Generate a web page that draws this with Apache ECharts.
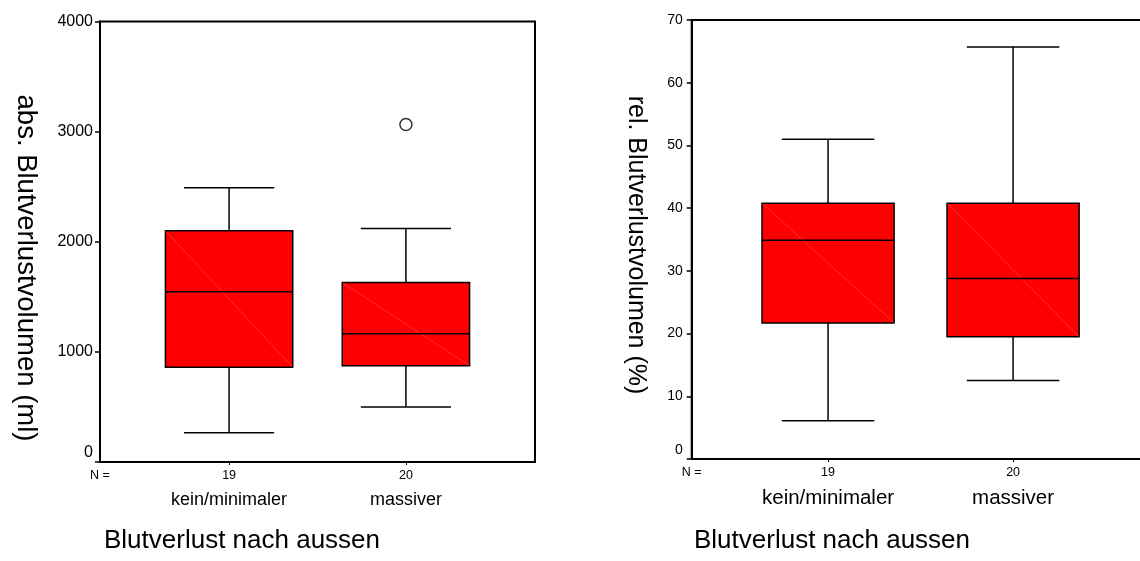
<!DOCTYPE html>
<html>
<head>
<meta charset="utf-8">
<script src="https://cdn.jsdelivr.net/npm/echarts@6/dist/echarts.min.js"></script>
<style>
  html, body { margin: 0; padding: 0; background: #fff; }
  #chart { width: 1140px; height: 561px; }
</style>
</head>
<body>
<div id="chart"></div>
<script>
// Groups (external blood loss) and their case counts
const groups = ['kein/minimaler', 'massiver'];
const groupN = [19, 20];

// Box statistics per group: [lower whisker, Q1, median, Q3, upper whisker]
const absStats = [
  [265, 860, 1545, 2100, 2490],
  [500, 875, 1165, 1630, 2120]
];
// Outliers: [group position, value]
const absOutliers = [[2, 3065]];

const relStats = [
  [6.1, 21.7, 34.9, 40.8, 51.0],
  [12.5, 19.5, 28.8, 40.8, 65.7]
];
const relOutliers = [];

// Value axis settings
const absAxis = { min: 0, max: 4000, interval: 1000 };
const relAxis = { min: 0, max: 70, interval: 10 };

// Horizontal extents of the two plot areas (group positions are 1 and 2)
const absXRange = [0.27, 2.73];
const relXRange = [0.263, 2.74];

const FONT = "'Liberation Sans', Arial, sans-serif";

function boxRenderer(boxW, capW) {
  return function (params, api) {
    const x = api.value(0);
    const lo = api.coord([x, api.value(1)]);
    const q1 = api.coord([x, api.value(2)]);
    const md = api.coord([x, api.value(3)]);
    const q3 = api.coord([x, api.value(4)]);
    const hi = api.coord([x, api.value(5)]);
    const hb = api.size([boxW, 0])[0] / 2;
    const hc = api.size([capW, 0])[0] / 2;
    const cx = lo[0];
    const line = { stroke: '#000', lineWidth: 1.5 };
    return {
      type: 'group',
      children: [
        { type: 'line', shape: { x1: cx, y1: lo[1], x2: cx, y2: q1[1] }, style: line },
        { type: 'line', shape: { x1: cx, y1: q3[1], x2: cx, y2: hi[1] }, style: line },
        { type: 'line', shape: { x1: cx - hc, y1: lo[1], x2: cx + hc, y2: lo[1] }, style: line },
        { type: 'line', shape: { x1: cx - hc, y1: hi[1], x2: cx + hc, y2: hi[1] }, style: line },
        { type: 'rect', shape: { x: cx - hb, y: q3[1], width: hb * 2, height: q1[1] - q3[1] },
          style: { fill: '#ff0000', stroke: '#000', lineWidth: 1.5 } },
        { type: 'line', shape: { x1: cx - hb, y1: q3[1], x2: cx + hb, y2: q1[1] },
          style: { stroke: 'rgba(255,140,140,0.55)', lineWidth: 0.6 } },
        { type: 'line', shape: { x1: cx - hb, y1: md[1], x2: cx + hb, y2: md[1] }, style: line }
      ]
    };
  };
}

function xAxisFor(gridIndex, range, nSize, catSize, catLine) {
  const vals = [range[0], 1, 2];
  return {
    type: 'value', gridIndex: gridIndex, min: range[0], max: range[1],
    splitLine: { show: false },
    axisLine: { show: false },
    axisTick: { show: true, customValues: [1, 2], length: 3, lineStyle: { color: '#000', width: 1 } },
    axisLabel: {
      customValues: vals,
      margin: 6,
      color: '#000',
      fontFamily: FONT,
      formatter: function (v) {
        if (Math.abs(v - range[0]) < 1e-6) return '{n|N =}';
        const i = Math.round(v) - 1;
        return '{n|' + groupN[i] + '}\n{c|' + groups[i] + '}';
      },
      rich: {
        n: { fontSize: nSize, lineHeight: 16, fontFamily: FONT, color: '#000' },
        c: { fontSize: catSize, lineHeight: catLine, fontFamily: FONT, color: '#000' }
      }
    }
  };
}

function yAxisFor(gridIndex, ax, fontSize, margin) {
  return {
    type: 'value', gridIndex: gridIndex, min: ax.min, max: ax.max, interval: ax.interval,
    splitLine: { show: false },
    axisLine: { show: true, lineStyle: { color: '#000', width: 2 } },
    axisTick: { show: true, inside: false, length: 5, lineStyle: { color: '#000', width: 1.5 } },
    axisLabel: {
      margin: margin, color: '#000', fontSize: fontSize, fontFamily: FONT,
      formatter: function (v) { return v === 0 ? '{z|0}' : String(v); },
      rich: { z: { fontSize: fontSize, fontFamily: FONT, color: '#000', padding: [0, 0, 18, 0] } }
    }
  };
}

const chart = echarts.init(document.getElementById('chart'), null, { renderer: 'canvas' });

chart.setOption({
  backgroundColor: '#fff',
  animation: false,
  grid: [
    { left: 100, top: 21.5, width: 435, height: 440.5, show: true, borderColor: '#000', borderWidth: 2,
      backgroundColor: 'transparent', outerBoundsMode: 'none', containLabel: false },
    { left: 691.7, top: 20, width: 458.3, height: 439, show: true, borderColor: '#000', borderWidth: 2,
      backgroundColor: 'transparent', outerBoundsMode: 'none', containLabel: false }
  ],
  xAxis: [
    xAxisFor(0, absXRange, 12.5, 18, 32),
    xAxisFor(1, relXRange, 12.5, 20.5, 34)
  ],
  yAxis: [
    yAxisFor(0, absAxis, 16, 7),
    yAxisFor(1, relAxis, 14, 9)
  ],
  series: [
    {
      type: 'custom', xAxisIndex: 0, yAxisIndex: 0,
      renderItem: boxRenderer(0.72, 0.51),
      encode: { x: 0, y: [1, 2, 3, 4, 5] },
      data: absStats.map(function (s, i) { return [i + 1].concat(s); }),
      z: 3
    },
    {
      type: 'scatter', xAxisIndex: 0, yAxisIndex: 0,
      symbol: 'circle', symbolSize: 12,
      itemStyle: { color: '#fff', borderColor: '#000', borderWidth: 1.5 },
      data: absOutliers,
      z: 4
    },
    {
      type: 'custom', xAxisIndex: 1, yAxisIndex: 1,
      renderItem: boxRenderer(0.714, 0.5),
      encode: { x: 0, y: [1, 2, 3, 4, 5] },
      data: relStats.map(function (s, i) { return [i + 1].concat(s); }),
      z: 3
    },
    {
      type: 'scatter', xAxisIndex: 1, yAxisIndex: 1,
      symbol: 'circle', symbolSize: 12,
      itemStyle: { color: '#fff', borderColor: '#000', borderWidth: 1.5 },
      data: relOutliers,
      z: 4
    }
  ],
  graphic: [
    { type: 'text', x: 26, y: 268, rotation: -Math.PI / 2,
      style: { text: 'abs. Blutverlustvolumen (ml)', font: '27.5px ' + FONT, fill: '#000', align: 'center', verticalAlign: 'middle' } },
    { type: 'text', x: 636, y: 245, rotation: -Math.PI / 2,
      style: { text: 'rel. Blutverlustvolumen (%)', font: '25px ' + FONT, fill: '#000', align: 'center', verticalAlign: 'middle' } },
    { type: 'text', x: 242, y: 541,
      style: { text: 'Blutverlust nach aussen', font: '26px ' + FONT, fill: '#000', align: 'center', verticalAlign: 'middle' } },
    { type: 'text', x: 832, y: 541,
      style: { text: 'Blutverlust nach aussen', font: '26px ' + FONT, fill: '#000', align: 'center', verticalAlign: 'middle' } }
  ]
});
</script>
</body>
</html>
